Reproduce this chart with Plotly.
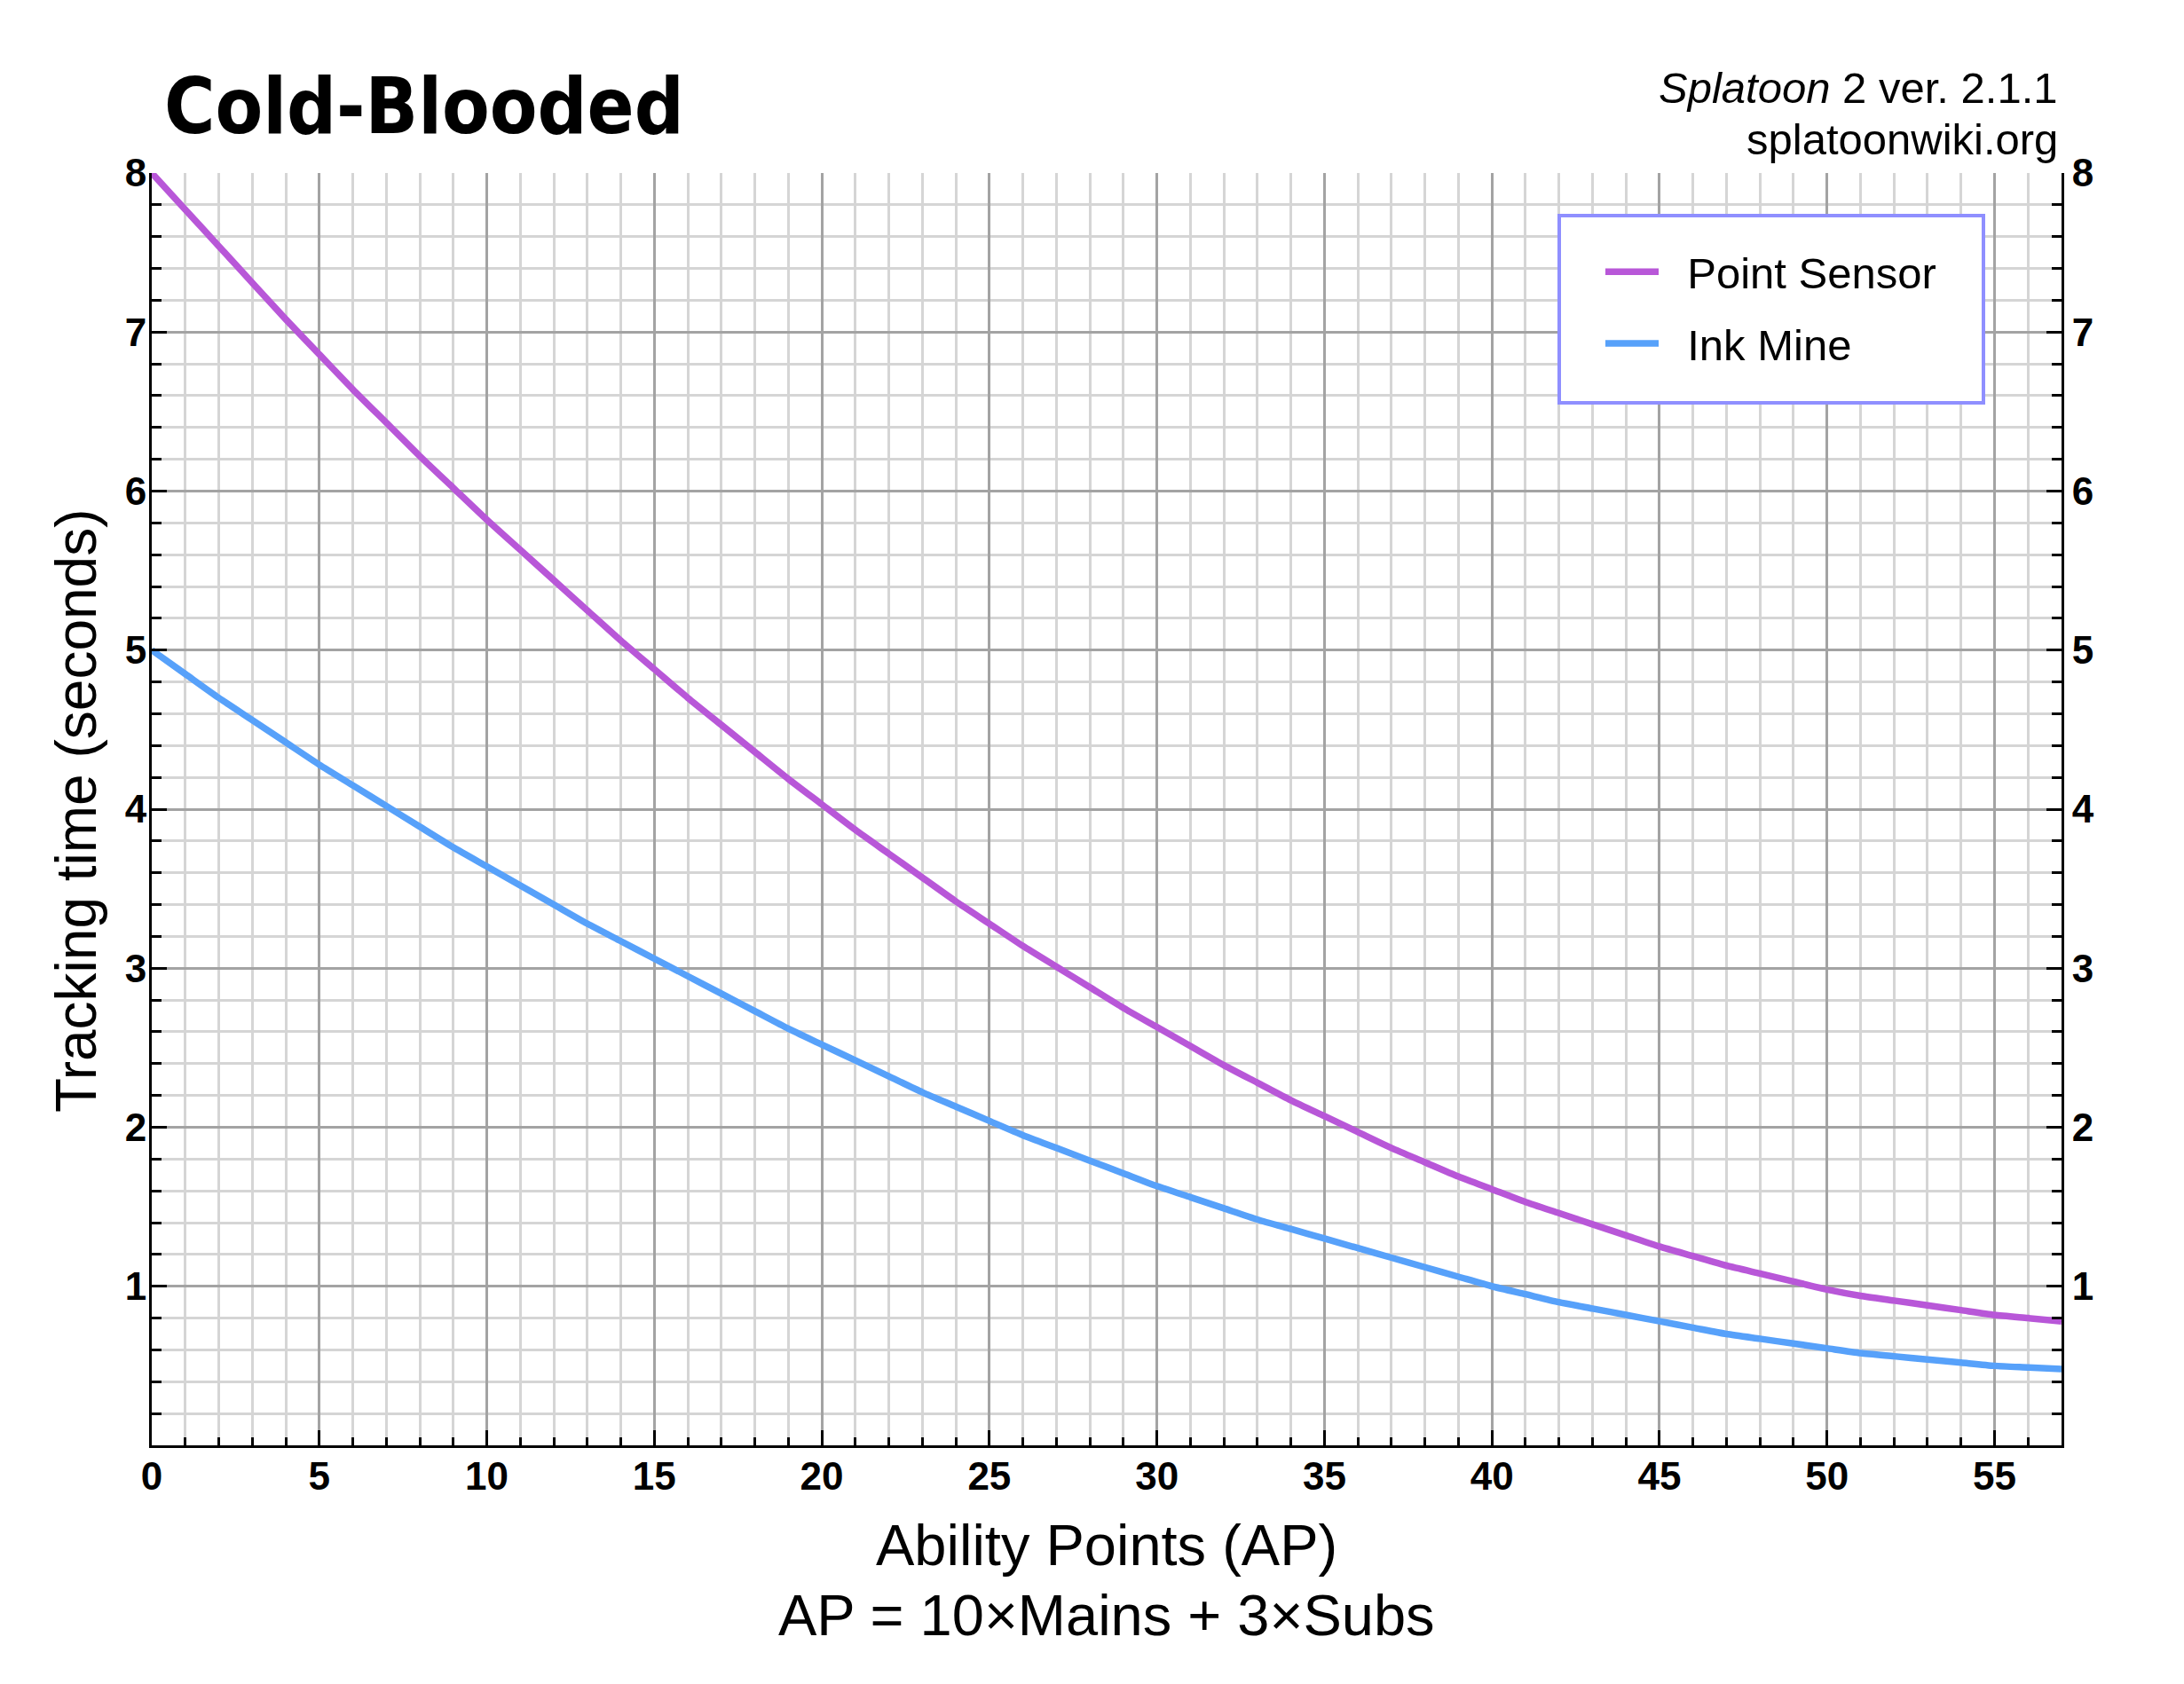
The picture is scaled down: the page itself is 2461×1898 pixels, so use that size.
import plotly.graph_objects as go

# ---------------- data ----------------
ability_points = list(range(0, 58))

point_sensor = [
    8.00, 7.77, 7.54, 7.31, 7.08, 6.86, 6.64, 6.43, 6.22, 6.02,
    5.82, 5.63, 5.44, 5.25, 5.06, 4.88, 4.70, 4.53, 4.36, 4.19,
    4.03, 3.87, 3.72, 3.57, 3.42, 3.28, 3.14, 3.01, 2.88, 2.75,
    2.63, 2.51, 2.39, 2.28, 2.17, 2.07, 1.97, 1.87, 1.78, 1.69,
    1.61, 1.53, 1.46, 1.39, 1.32, 1.25, 1.19, 1.13, 1.08, 1.03,
    0.98, 0.94, 0.91, 0.88, 0.85, 0.82, 0.80, 0.78,
]

ink_mine = [
    5.00, 4.85, 4.70, 4.56, 4.42, 4.28, 4.15, 4.02, 3.89, 3.76,
    3.64, 3.52, 3.40, 3.28, 3.17, 3.06, 2.95, 2.84, 2.73, 2.62,
    2.52, 2.42, 2.32, 2.22, 2.13, 2.04, 1.95, 1.87, 1.79, 1.71,
    1.63, 1.56, 1.49, 1.42, 1.36, 1.30, 1.24, 1.18, 1.12, 1.06,
    1.00, 0.95, 0.90, 0.86, 0.82, 0.78, 0.74, 0.70, 0.67, 0.64,
    0.61, 0.58, 0.56, 0.54, 0.52, 0.50, 0.49, 0.48,
]

x_tick_values = [0, 5, 10, 15, 20, 25, 30, 35, 40, 45, 50, 55]
y_tick_values = [1, 2, 3, 4, 5, 6, 7, 8]

series_names = ["Point Sensor", "Ink Mine"]
title_text = "Cold-Blooded"
x_title = "Ability Points (AP)"
x_subtitle = "AP = 10×Mains + 3×Subs"
y_title = "Tracking time (seconds)"
version_text = "<i>Splatoon</i> 2 ver. 2.1.1"
site_text = "splatoonwiki.org"

# ---------------- style ----------------
W, H = 2461, 1898
ML, MR, MT, MB = 171, 138, 195, 269
PW, PH = W - ML - MR, H - MT - MB

PURPLE = "#B857D8"
BLUE = "#57A1FA"
FONT = "Liberation Sans, Arial, Helvetica, sans-serif"
NARROW = "Liberation Sans Narrow, Arial Narrow, DejaVu Sans Condensed, sans-serif"
MAJOR_GRID = "#a3a3a3"
MINOR_GRID = "#d5d5d5"
LEGEND_PAD = "&nbsp;&nbsp;"


def px_x(px):
    return (px - ML) / PW


def px_y(py):
    return 1 - (py - MT) / PH


fig = go.Figure()
fig.add_trace(go.Scatter(
    x=ability_points, y=point_sensor, mode="lines", name=LEGEND_PAD + series_names[0],
    line=dict(color=PURPLE, width=7.5, shape="spline", smoothing=0.6), legendgroup="a",
))
fig.add_trace(go.Scatter(
    x=ability_points, y=ink_mine, mode="lines", name=LEGEND_PAD + series_names[1],
    line=dict(color=BLUE, width=7.5, shape="spline", smoothing=0.6), legendgroup="b",
))
# invisible helper trace so the mirrored right-hand axis is drawn
fig.add_trace(go.Scatter(
    x=ability_points, y=ink_mine, mode="lines", yaxis="y2",
    line=dict(color="rgba(0,0,0,0)", width=0), showlegend=False, hoverinfo="skip",
))

tick_font = dict(family=FONT, size=44, color="black", weight="bold")

common_axis = dict(
    showline=True, linecolor="black", linewidth=3,
    ticks="inside", tickwidth=3, tickcolor="black", ticklen=17,
    zeroline=False, tickfont=tick_font,
)

fig.update_layout(
    width=W, height=H,
    margin=dict(l=ML, r=MR, t=MT, b=MB, pad=0),
    paper_bgcolor="white", plot_bgcolor="white",
    showlegend=True,
    legend=dict(
        x=px_x(1804), y=px_y(268), xanchor="left", yanchor="top",
        bgcolor="rgba(0,0,0,0)", borderwidth=0,
        font=dict(family=FONT, size=49, color="black"),
        itemwidth=60, tracegroupgap=14,
    ),
    xaxis=dict(
        range=[0, 57], tickmode="array", tickvals=x_tick_values,
        showgrid=True, gridcolor=MAJOR_GRID, gridwidth=2.5,
        ticklabelstandoff=-6,
        minor=dict(tickmode="linear", tick0=0, dtick=1, ticks="inside", ticklen=9,
                   tickwidth=3, tickcolor="black",
                   showgrid=True, gridcolor=MINOR_GRID, gridwidth=2.5),
        **common_axis,
    ),
    yaxis=dict(
        range=[0, 8], tickmode="array", tickvals=y_tick_values,
        showgrid=True, gridcolor=MAJOR_GRID, gridwidth=2.5,
        ticklabelstandoff=-6,
        minor=dict(tickmode="linear", tick0=0, dtick=0.2, ticks="inside", ticklen=11,
                   tickwidth=3, tickcolor="black",
                   showgrid=True, gridcolor=MINOR_GRID, gridwidth=2.5),
        **common_axis,
    ),
    yaxis2=dict(
        overlaying="y", side="right", range=[0, 8],
        tickmode="array", tickvals=y_tick_values, showgrid=False,
        ticklabelstandoff=0,
        minor=dict(tickmode="linear", tick0=0, dtick=0.2, ticks="inside", ticklen=11,
                   tickwidth=3, tickcolor="black", showgrid=False),
        **common_axis,
    ),
)

# legend frame (white box with a lavender border)
fig.add_shape(
    type="rect", xref="paper", yref="paper",
    x0=px_x(1757), x1=px_x(2235), y0=px_y(454), y1=px_y(243),
    line=dict(color="#8f8fff", width=4), fillcolor="white", layer="above",
)

annotations = [
    dict(text=title_text, x=px_x(183), y=px_y(120), xanchor="left", yanchor="middle",
         font=dict(family=NARROW, size=87, color="black", weight="bold")),
    dict(text=version_text, x=px_x(2321), y=px_y(99), xanchor="right", yanchor="middle",
         font=dict(family=FONT, size=49, color="black")),
    dict(text=site_text, x=px_x(2321), y=px_y(157), xanchor="right", yanchor="middle",
         font=dict(family=FONT, size=49, color="black")),
    dict(text=x_title, x=0.5, y=px_y(1742), xanchor="center", yanchor="middle",
         font=dict(family=FONT, size=65, color="black")),
    dict(text=x_subtitle, x=0.5, y=px_y(1821), xanchor="center", yanchor="middle",
         font=dict(family=FONT, size=65, color="black")),
    dict(text=y_title, x=px_x(86), y=px_y(914), xanchor="center", yanchor="middle",
         textangle=-90, font=dict(family=FONT, size=64, color="black")),
]
for a in annotations:
    fig.add_annotation(xref="paper", yref="paper", showarrow=False, **a)

fig.write_html("out.html")
